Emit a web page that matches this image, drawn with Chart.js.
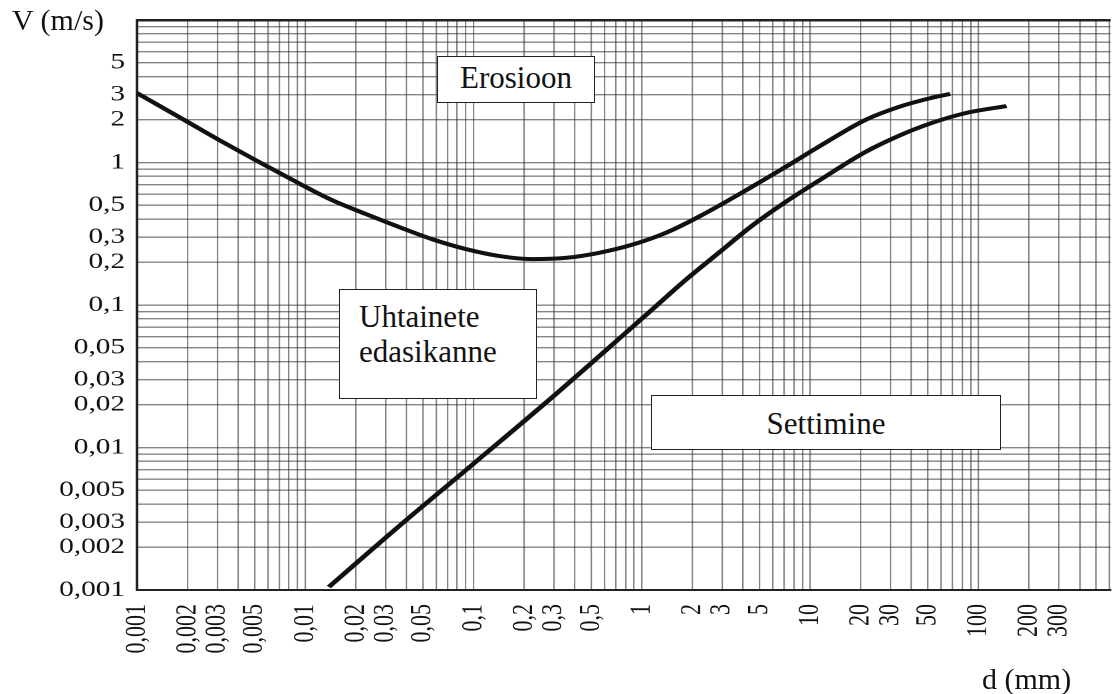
<!DOCTYPE html>
<html>
<head>
<meta charset="utf-8">
<script src="https://cdn.jsdelivr.net/npm/chart.js@4.4.1/dist/chart.umd.min.js"></script>
<style>
    body { margin: 0; background: #fff; }
    #page { position: relative; width: 1113px; height: 694px; overflow: hidden; background: #fff; }
    /* the scanned original is stretched sideways, so the canvas is too */
    #wrap { position: absolute; left: 0; top: 0; width: 837px; height: 694px; transform: scaleX(1.33); transform-origin: 0 0; }
    .txt { position: absolute; font-family: "Liberation Serif", "DejaVu Serif", serif; font-size: 30px; color: #111; white-space: nowrap; line-height: 30px; }
    .box { position: absolute; box-sizing: border-box; background: #fff; border: 1.5px solid #222; font-family: "Liberation Serif", "DejaVu Serif", serif; font-size: 31px; color: #111; white-space: nowrap; }
</style>
</head>
<body>
<div id="page">
    <div id="wrap"><canvas id="hjulstrom"></canvas></div>
    <div class="txt" style="left:12px; top:5px;">V (m/s)</div>
    <div class="txt" style="left:982px; top:664px;">d (mm)</div>
    <div class="box" style="left:437px; top:56px; width:158px; height:47px; line-height:42px; text-align:center;">Erosioon</div>
    <div class="box" style="left:339px; top:289px; width:198px; height:110px; line-height:35px; padding:9px 0 0 19px;">Uhtainete<br>edasikanne</div>
    <div class="box" style="left:651px; top:395px; width:350px; height:55px; line-height:56px; text-align:center;">Settimine</div>
</div>

<script>
// Tick labels (comma decimals as in the original)
const xTickValues = [0.001, 0.002, 0.003, 0.005, 0.01, 0.02, 0.03, 0.05, 0.1, 0.2, 0.3, 0.5, 1, 2, 3, 5, 10, 20, 30, 50, 100, 200, 300];
const xTickLabels = ['0,001', '0,002', '0,003', '0,005', '0,01', '0,02', '0,03', '0,05', '0,1', '0,2', '0,3', '0,5', '1', '2', '3', '5', '10', '20', '30', '50', '100', '200', '300'];
const yTickValues = [0.001, 0.002, 0.003, 0.005, 0.01, 0.02, 0.03, 0.05, 0.1, 0.2, 0.3, 0.5, 1, 2, 3, 5];
const yTickLabels = ['0,001', '0,002', '0,003', '0,005', '0,01', '0,02', '0,03', '0,05', '0,1', '0,2', '0,3', '0,5', '1', '2', '3', '5'];

// Erosion curve: grain size d (mm) -> velocity V (m/s)
const erosionD = [0.001, 0.00195, 0.00307, 0.008, 0.0144, 0.0229, 0.036, 0.0565, 0.09, 0.141, 0.222, 0.353, 0.553, 0.869, 1.38, 2.17, 4.49, 7.14, 11.2, 21.3, 33.5, 52.6, 68];
const erosionV = [3.07, 1.96, 1.44, 0.778, 0.545, 0.435, 0.353, 0.29, 0.247, 0.221, 0.21, 0.214, 0.232, 0.264, 0.32, 0.415, 0.673, 0.93, 1.285, 1.99, 2.45, 2.84, 3.03];

// Settling curve
const settlingD = [0.0138, 0.036, 0.1, 0.28, 0.8, 1.14, 1.82, 2.86, 4.49, 7.14, 11.2, 21.3, 33.5, 52.6, 83.7, 147];
const settlingV = [0.00105, 0.0028, 0.0077, 0.0215, 0.0636, 0.092, 0.15, 0.232, 0.358, 0.528, 0.742, 1.185, 1.535, 1.89, 2.22, 2.49];

const X_MIN = 0.001, X_MAX = 610, Y_MIN = 0.001, Y_MAX = 10;

// log paper grid: 1..9 in every decade
function logGrid(fromExp, toExp, max) {
    const out = [];
    for (let e = fromExp; e <= toExp; e++) {
        for (let m = 1; m <= 9; m++) {
            const v = Number((m * Math.pow(10, e)).toPrecision(6));
            if (v <= max) out.push(v);
        }
    }
    return out;
}

function labelFor(values, labels, v) {
    const i = values.findIndex(t => Math.abs(Math.log10(t / v)) < 1e-6);
    return i >= 0 ? labels[i] : '';
}

const xGrid = logGrid(-3, 2, X_MAX);
const yGrid = logGrid(-3, 1, Y_MAX);

Chart.defaults.font.family = '"Liberation Serif", "DejaVu Serif", serif';
Chart.defaults.color = '#111';

const gridColor = 'rgba(50,50,50,0.6)';

new Chart(document.getElementById('hjulstrom'), {
    type: 'line',
    data: {
        datasets: [
            {
                label: 'Erosioon',
                data: erosionD.map((d, i) => ({ x: d, y: erosionV[i] })),
                borderColor: '#111',
                borderWidth: 4,
                pointRadius: 0,
                cubicInterpolationMode: 'monotone',
                fill: false
            },
            {
                label: 'Settimine',
                data: settlingD.map((d, i) => ({ x: d, y: settlingV[i] })),
                borderColor: '#111',
                borderWidth: 4,
                pointRadius: 0,
                cubicInterpolationMode: 'monotone',
                fill: false
            }
        ]
    },
    options: {
        responsive: true,
        maintainAspectRatio: false,
        animation: false,
        devicePixelRatio: 2,
        layout: { padding: { top: 20, right: 0, bottom: 0, left: 0 } },
        plugins: {
            legend: { display: false },
            tooltip: { enabled: false }
        },
        scales: {
            x: {
                type: 'logarithmic',
                min: X_MIN,
                max: X_MAX,
                afterBuildTicks: scale => { scale.ticks = xGrid.map(v => ({ value: v })); },
                afterFit: scale => {
                    scale.height = 104;
                    scale.paddingLeft = 0;
                    scale.paddingRight = 0;
                },
                grid: { color: gridColor, lineWidth: 1.1, drawTicks: false },
                border: { display: true, color: '#222', width: 2 },
                ticks: {
                    autoSkip: false,
                    minRotation: 90,
                    maxRotation: 90,
                    padding: 14,
                    font: { size: 22 },
                    callback: value => labelFor(xTickValues, xTickLabels, value)
                }
            },
            y: {
                type: 'logarithmic',
                min: Y_MIN,
                max: Y_MAX,
                afterBuildTicks: scale => { scale.ticks = yGrid.map(v => ({ value: v })); },
                afterFit: scale => {
                    scale.width = 103;
                    scale.paddingTop = 0;
                    scale.paddingBottom = 0;
                },
                grid: {
                    drawTicks: false,
                    color: ctx => (ctx.tick && ctx.tick.value === Y_MAX ? '#222' : gridColor),
                    lineWidth: ctx => (ctx.tick && ctx.tick.value === Y_MAX ? 2.5 : 1.4)
                },
                border: { display: true, color: '#222', width: 2 },
                ticks: {
                    autoSkip: false,
                    padding: 9,
                    font: { size: 22 },
                    callback: value => labelFor(yTickValues, yTickLabels, value)
                }
            }
        }
    }
});
</script>
</body>
</html>
